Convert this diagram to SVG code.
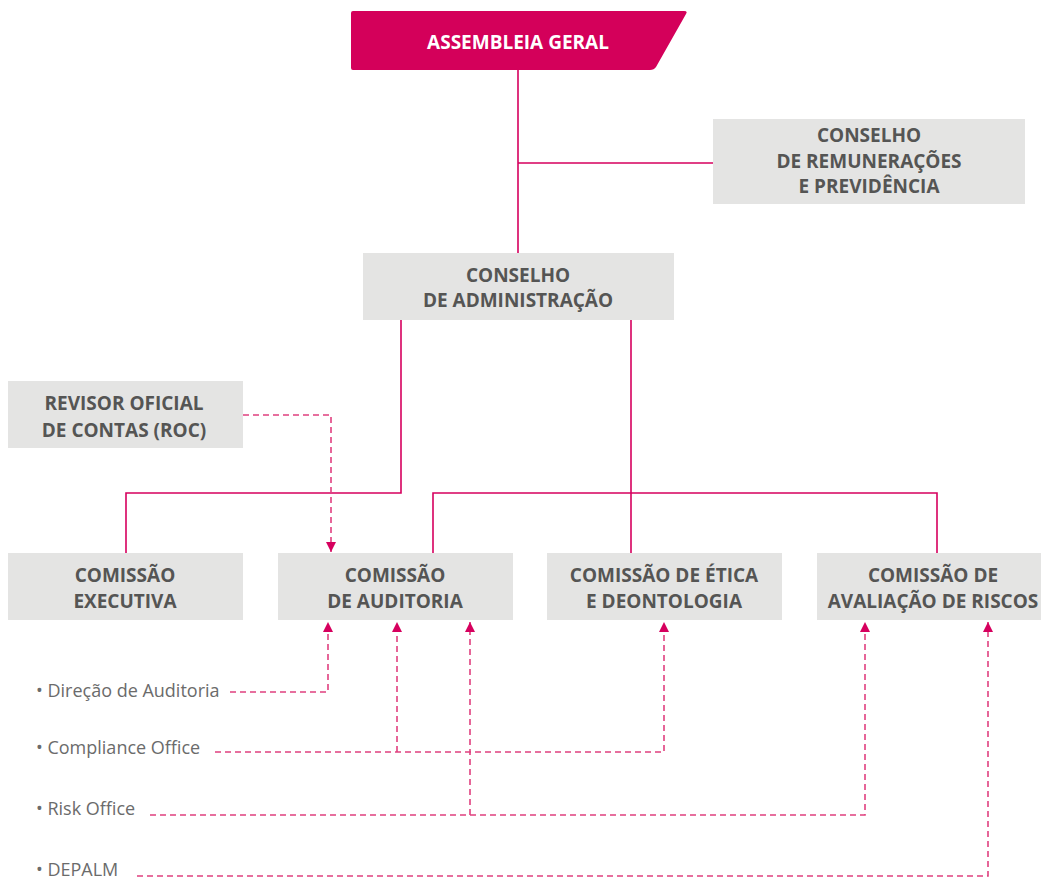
<svg xmlns="http://www.w3.org/2000/svg" width="1041" height="880" viewBox="0 0 1041 880">
<style>
.box{fill:#e4e4e3}
.t{font-family:"Open Sans","Noto Sans",sans-serif;font-weight:700;font-size:19px;fill:#555554;text-anchor:middle}
.w{fill:#ffffff}
.lbl{font-family:"Open Sans","Noto Sans",sans-serif;font-weight:400;font-size:18px;fill:#6b6b6b}
.solid{fill:none;stroke:#d6005e;stroke-width:1.6}
.dash{fill:none;stroke:#e0407f;stroke-width:1.6;stroke-dasharray:6 4}
</style>
<defs>
<marker id="ar" viewBox="0 0 10 10" refX="10" refY="5" markerWidth="10" markerHeight="10" markerUnits="userSpaceOnUse" orient="auto">
<path d="M0,0 L10,5 L0,10 Z" fill="#d6005e"/>
</marker>
</defs>
<g id="connectors">
<path class="solid" d="M518,70 V253 M518,163 H713 M401,320 V493 H126 V553 M631,320 V553 M433,553 V493 H937 V553"/>
<path class="dash" d="M243,415 H331 V552" marker-end="url(#ar)"/>
<path class="dash" d="M230,692 H328 V622" marker-end="url(#ar)"/>
<path class="dash" d="M215,752 H664 V622" marker-end="url(#ar)"/>
<path class="dash" d="M397,752 V622" marker-end="url(#ar)"/>
<path class="dash" d="M150,815 H865 V622" marker-end="url(#ar)"/>
<path class="dash" d="M470,815 V622" marker-end="url(#ar)"/>
<path class="dash" d="M137,876 H988 V622" marker-end="url(#ar)"/>
</g>
<g id="assembleia">
<path d="M353,11 H684 Q688,11 686,14 L656,67 Q654,70 650,70 H353 Q351,70 351,68 V13 Q351,11 353,11 Z" fill="#d4005a"/>
<text class="t w" x="518" y="49">ASSEMBLEIA GERAL</text>
</g>
<g id="remuneracoes">
<rect class="box" x="713" y="119" width="312" height="85"/>
<text class="t" x="869" y="142">CONSELHO</text>
<text class="t" x="869" y="168">DE REMUNERAÇÕES</text>
<text class="t" x="869" y="193">E PREVIDÊNCIA</text>
</g>
<g id="administracao">
<rect class="box" x="363" y="253" width="311" height="67"/>
<text class="t" x="518" y="282">CONSELHO</text>
<text class="t" x="518" y="307">DE ADMINISTRAÇÃO</text>
</g>
<g id="roc">
<rect class="box" x="8" y="381" width="235" height="67"/>
<text class="t" x="124" y="410">REVISOR OFICIAL</text>
<text class="t" x="124" y="437">DE CONTAS (ROC)</text>
</g>
<g id="executiva">
<rect class="box" x="8" y="553" width="235" height="67"/>
<text class="t" x="125" y="582">COMISSÃO</text>
<text class="t" x="125" y="608">EXECUTIVA</text>
</g>
<g id="auditoria">
<rect class="box" x="278" y="553" width="235" height="67"/>
<text class="t" x="395" y="582">COMISSÃO</text>
<text class="t" x="395" y="608">DE AUDITORIA</text>
</g>
<g id="etica">
<rect class="box" x="547" y="553" width="235" height="67"/>
<text class="t" x="664" y="582">COMISSÃO DE ÉTICA</text>
<text class="t" x="664" y="608">E DEONTOLOGIA</text>
</g>
<g id="riscos">
<rect class="box" x="817" y="553" width="235" height="67"/>
<text class="t" x="933" y="582">COMISSÃO DE</text>
<text class="t" x="933" y="608">AVALIAÇÃO DE RISCOS</text>
</g>
<g id="labels">
<text class="lbl" x="36" y="697">• Direção de Auditoria</text>
<text class="lbl" x="36" y="754">• Compliance Office</text>
<text class="lbl" x="36" y="815">• Risk Office</text>
<text class="lbl" x="36" y="876">• DEPALM</text>
</g>
</svg>
